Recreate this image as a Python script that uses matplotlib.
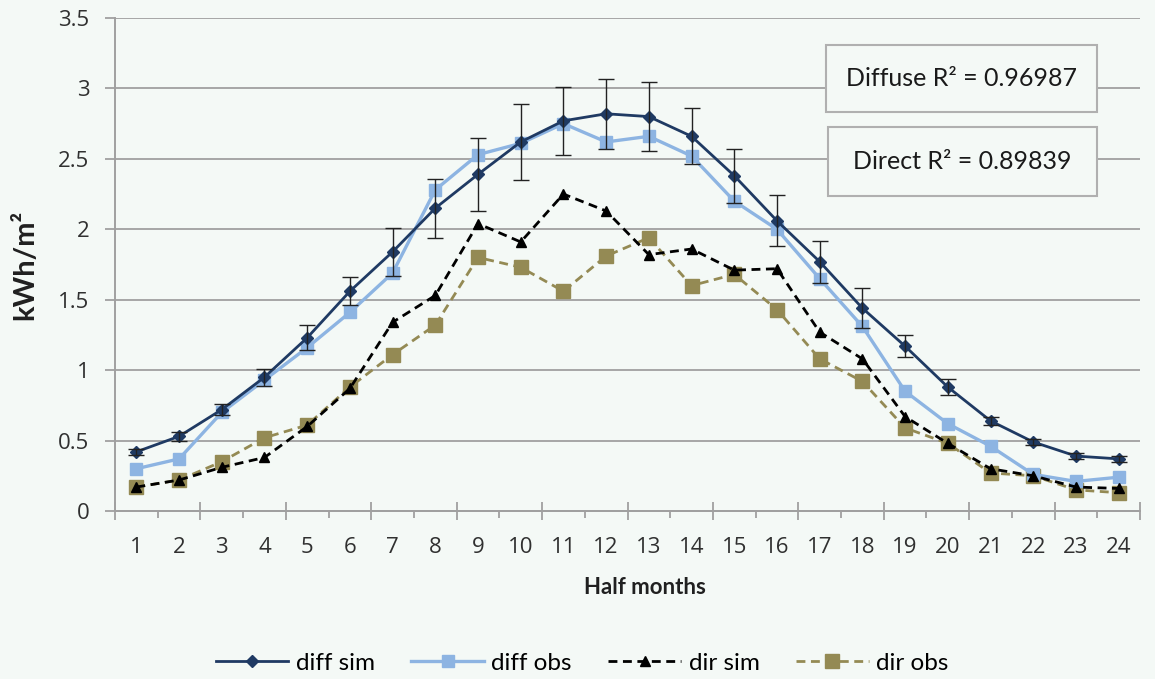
import matplotlib
matplotlib.use("Agg")
import matplotlib.pyplot as plt
from matplotlib.patches import Rectangle
import numpy as np

half_months = list(range(1, 25))
diff_sim = [0.42, 0.53, 0.72, 0.95, 1.23, 1.56, 1.84, 2.15, 2.39, 2.62, 2.77, 2.82,
            2.80, 2.66, 2.38, 2.06, 1.77, 1.44, 1.17, 0.88, 0.64, 0.49, 0.39, 0.37]
diff_sim_err = [0.02, 0.03, 0.04, 0.06, 0.09, 0.10, 0.17, 0.21, 0.26, 0.27, 0.24, 0.25,
                0.245, 0.20, 0.19, 0.18, 0.15, 0.14, 0.08, 0.06, 0.03, 0.02, 0.02, 0.02]
diff_obs = [0.30, 0.37, 0.70, 0.93, 1.16, 1.41, 1.69, 2.28, 2.53, 2.61, 2.75, 2.62,
            2.66, 2.52, 2.20, 2.00, 1.65, 1.31, 0.85, 0.62, 0.46, 0.26, 0.21, 0.24]
dir_sim = [0.17, 0.22, 0.31, 0.38, 0.60, 0.87, 1.34, 1.53, 2.04, 1.91, 2.25, 2.13,
           1.82, 1.86, 1.71, 1.72, 1.27, 1.08, 0.67, 0.48, 0.30, 0.25, 0.17, 0.16]
dir_obs = [0.17, 0.22, 0.35, 0.52, 0.61, 0.88, 1.11, 1.32, 1.80, 1.73, 1.56, 1.81,
           1.94, 1.60, 1.68, 1.43, 1.08, 0.92, 0.59, 0.48, 0.27, 0.25, 0.15, 0.13]
y_ticks = [0, 0.5, 1, 1.5, 2, 2.5, 3, 3.5]
y_tick_labels = ["0", "0.5", "1", "1.5", "2", "2.5", "3", "3.5"]
series_names = ["diff sim", "diff obs", "dir sim", "dir obs"]
annotations = ["Diffuse R² = 0.96987", "Direct R² = 0.89839"]

plt.rcParams['font.family'] = ['Lato', 'DejaVu Sans']
bg = '#f4f9f6'
W, H = 1155, 679
fig = plt.figure(figsize=(W / 100, H / 100), dpi=100, facecolor=bg)
ax_l, ax_r, ax_t, ax_b = 115, 1140, 18, 511
ax = fig.add_axes([ax_l / W, 1 - ax_b / H, (ax_r - ax_l) / W, (ax_b - ax_t) / H],
                  facecolor=bg)

x = np.array(half_months)
c_ds = '#1f3a63'
c_do = '#8db4e2'
c_rs = '#000000'
c_ro = '#948a54'
tick_font = dict(family=['Open Sans', 'DejaVu Sans'], size=16)

ax.errorbar(x, diff_sim, yerr=diff_sim_err, fmt='none', ecolor='#222222',
            elinewidth=1.0, capsize=5.5, capthick=1.0, zorder=5)
l1, = ax.plot(x, diff_sim, color=c_ds, lw=2.0, marker='D', ms=6, zorder=4,
              label=series_names[0])
l2, = ax.plot(x, diff_obs, color=c_do, lw=2.4, marker='s', ms=8.5, zorder=3,
              label=series_names[1])
l3, = ax.plot(x, dir_sim, color=c_rs, lw=2.0, ls=(0, (3.2, 2)), marker='^', ms=7,
              zorder=3, label=series_names[2])
l4, = ax.plot(x, dir_obs, color=c_ro, lw=2.0, ls=(0, (3.2, 2)), marker='s', ms=9.5,
              zorder=2, label=series_names[3])

ax.set_xlim(0.5, 24.5)
ax.set_ylim(0, 3.5)
ax.set_yticks(y_ticks)
ax.set_yticklabels(y_tick_labels, fontdict=tick_font)
ax.set_xticks(x)
ax.set_xticklabels([str(v) for v in half_months], fontdict=tick_font)
# short boundary ticks
ax.set_xticks(np.arange(1.5, 25, 2), minor=True)
ax.tick_params(axis='x', which='major', length=0, pad=19)
ax.tick_params(axis='x', which='minor', length=5, width=1.3, color='#a0a0a0', direction='out')
ax.tick_params(axis='y', length=7.5, width=1.3, color='#a0a0a0', pad=11)
for lab in ax.get_xticklabels() + ax.get_yticklabels():
    lab.set_color('#303030')

# tall boundary ticks on a secondary axis
sec = ax.secondary_xaxis(0)
sec.set_xticks(np.arange(0.5, 25, 2))
sec.tick_params(axis='x', length=12.5, width=1.3, color='#a0a0a0', direction='inout',
                labelbottom=False)
sec.spines['bottom'].set_color('#a0a0a0')
sec.spines['bottom'].set_linewidth(1.4)

ax.grid(axis='y', color='#a6a6a6', lw=1.4, zorder=0)
ax.set_axisbelow(True)
for s in ['top', 'right']:
    ax.spines[s].set_visible(False)
for s in ['left', 'bottom']:
    ax.spines[s].set_color('#a0a0a0')
    ax.spines[s].set_linewidth(1.4)

fig.text(645 / W, 1 - 588 / H, "Half months", fontsize=16, fontweight='bold',
         color='#202020', ha='center', va='center')
fig.text(25 / W, 1 - 265 / H, "kWh/m²", fontsize=21, fontweight='bold',
         color='#202020', ha='center', va='center', rotation=90)

# R² boxes
boxes = [(826, 45, 1097, 112), (828, 127, 1097, 196)]
for (bx0, by0, bx1, by1), txt in zip(boxes, annotations):
    fx0, fx1 = (bx0 - ax_l) / (ax_r - ax_l), (bx1 - ax_l) / (ax_r - ax_l)
    fy0, fy1 = (ax_b - by1) / (ax_b - ax_t), (ax_b - by0) / (ax_b - ax_t)
    ax.add_patch(Rectangle((fx0, fy0), fx1 - fx0, fy1 - fy0, transform=ax.transAxes,
                           fc=bg, ec='#b0b0b0', lw=1.5, zorder=9, clip_on=False))
    ax.text((fx0 + fx1) / 2, (fy0 + fy1) / 2, txt, transform=ax.transAxes,
            fontsize=18, ha='center', va='center', color='#1a1a1a', zorder=10)

fig.legend(handles=[l1, l2, l3, l4], loc='center', bbox_to_anchor=(582 / W, 1 - 663 / H),
           ncol=4, frameon=False, fontsize=17.5, handlelength=3.0, columnspacing=1.5,
           handletextpad=0.3, numpoints=1)

fig.savefig("out.png", dpi=100, facecolor=bg)
